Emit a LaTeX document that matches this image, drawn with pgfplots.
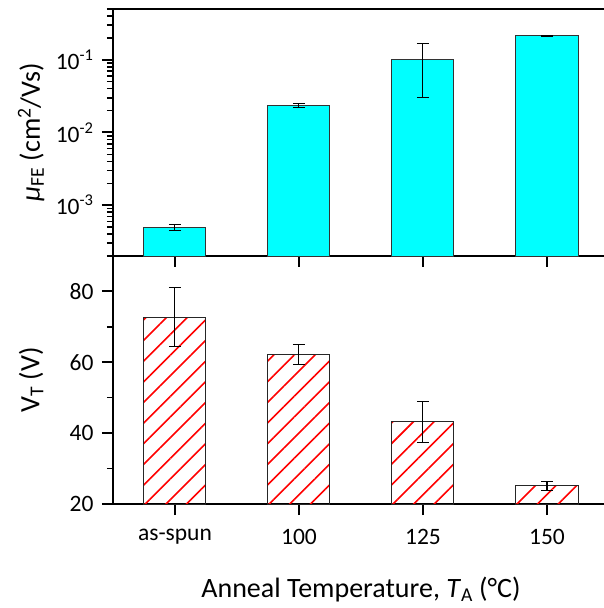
\documentclass[border=0pt]{standalone}
\usepackage{pgfplots}
\pgfplotsset{compat=1.18}
\usepackage{pgfplotstable}
\usepackage{fontspec}
\setmainfont{Carlito}
\usetikzlibrary{patterns.meta}

\definecolor{barcyan}{RGB}{0,255,255}

% mobility (cm^2/Vs)
\pgfplotstableread{
x y err
0 4.9e-4 0.45e-4
1 0.0236 0.0015
2 0.100 0.070
3 0.214 0.003
}\mobility

% threshold voltage (V)
\pgfplotstableread{
x y err
0 72.7 8.3
1 62.2 2.7
2 43.2 5.7
3 25.1 1.2
}\vth

\pgfplotsset{
  common/.style={
    scale only axis,
    width=496pt,
    xmin=-0.5, xmax=3.5,
    xtick={0,1,2,3},
    axis line style={line width=2pt},
    tick align=outside,
    xtick pos=bottom,
    ytick pos=left,
    major tick length=11pt,
    minor tick length=6pt,
    every major tick/.append style={line width=2pt, black},
    every minor tick/.append style={line width=1.5pt, black},
    tick label style={font=\fontsize{23.5}{28}\selectfont},
    yticklabel style={xshift=-5pt},
    label style={font=\fontsize{28}{34}\selectfont},
    /pgf/number format/assume math mode=true,
    ylabel style={at={(axis description cs:-0.165,0.5)}, anchor=center},
  },
}

\begin{document}
\begin{tikzpicture}
% bottom panel: threshold voltage
\begin{axis}[
  common,
  at={(0,0)}, anchor=south west,
  height=248pt,
  ymin=20, ymax=90,
  ytick={20,40,60,80},
  minor ytick={30,50,70},
  xticklabels={as-spun,100,125,150},
  xticklabel style={yshift=-11pt},
  ylabel={V\textsubscript{T} (V)},
  xlabel={Anneal Temperature, \textit{T}\textsubscript{A} (°C)},
  xlabel style={at={(axis description cs:0.5,0)}, anchor=base, yshift=-93pt},
]
\addplot[ybar, bar width=0.5, draw=black!85, line width=1pt,
  pattern={Lines[angle=45, distance=14.6pt, line width=1.6pt]}, pattern color=red,
  error bars/.cd, y dir=both, y explicit,
  error bar style={line width=1pt, black},
  error mark options={rotate=90, mark size=6pt, line width=1pt, black}]
  table[x=x, y=y, y error=err] {\vth};
\end{axis}
% top panel: field-effect mobility
\begin{axis}[
  common,
  at={(0,248pt)}, anchor=south west,
  height=247pt,
  ymode=log, log origin y=infty,
  ymin=2e-4, ymax=0.5,
  ytick={1e-3,1e-2,1e-1},
  minor ytick={2e-4,3e-4,4e-4,5e-4,6e-4,7e-4,8e-4,9e-4,
    2e-3,3e-3,4e-3,5e-3,6e-3,7e-3,8e-3,9e-3,
    2e-2,3e-2,4e-2,5e-2,6e-2,7e-2,8e-2,9e-2,
    2e-1,3e-1,4e-1,5e-1},
  yticklabels={10\textsuperscript{-3},10\textsuperscript{-2},10\textsuperscript{-1}},
  xticklabels={},
  ylabel={\textit{μ}\textsubscript{FE} (cm\textsuperscript{2}/Vs)},
]
\addplot[ybar, bar width=0.5, fill=barcyan, draw=black!80, line width=1pt,
  error bars/.cd, y dir=both, y explicit,
  error bar style={line width=1pt, black},
  error mark options={rotate=90, mark size=6pt, line width=1pt, black}]
  table[x=x, y=y, y error=err] {\mobility};
\end{axis}
\pgfresetboundingbox
\path[use as bounding box] (-113pt,-104pt) rectangle (490pt,504pt);
\end{tikzpicture}
\end{document}
